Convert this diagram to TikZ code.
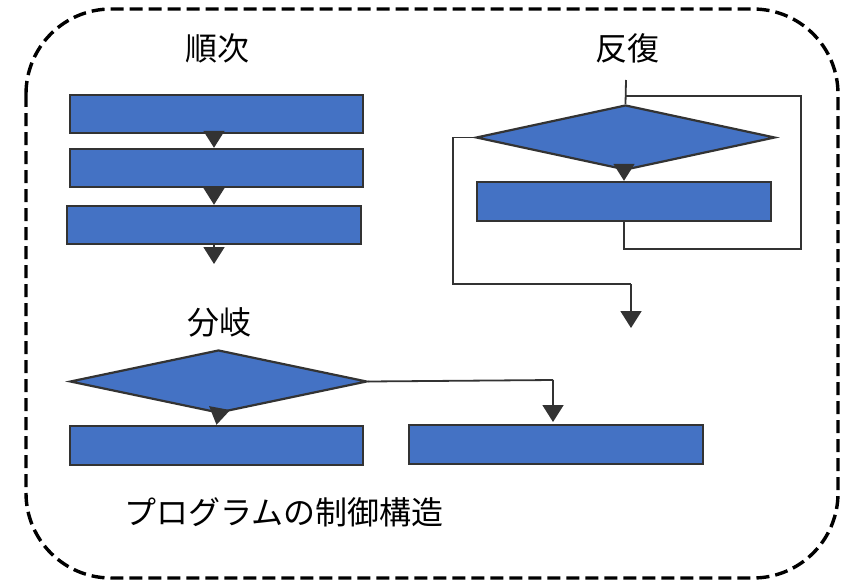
\documentclass[tikz,border=0pt]{standalone}
\usepackage{fontspec}
\setmainfont{Noto Sans CJK JP}
\usetikzlibrary{arrows.meta,shapes.geometric}
\definecolor{boxblue}{HTML}{4472C4}
\definecolor{edge}{HTML}{333333}
\tikzset{
  blk/.style={draw=edge, line width=2.4pt, fill=boxblue, rectangle, inner sep=0pt, minimum width=293pt, minimum height=38pt},
  dia/.style={draw=edge, line width=2.2pt, fill=boxblue, diamond, inner sep=0pt, minimum width=298pt, minimum height=64pt},
  conn/.style={draw=edge, line width=1.8pt},
  arr/.style={conn, -{Triangle[width=21pt,length=17pt]}},
  lbl/.style={font=\fontsize{32pt}{36pt}\selectfont, inner sep=0pt}
}
\begin{document}
\begin{tikzpicture}[x=1pt,y=-1pt]
\useasboundingbox (0,0) rectangle (858,583);
\draw[black, line width=3.4pt, dash pattern=on 13pt off 6pt, rounded corners=85pt] (26,9) rectangle (838,578);

% sequence
\node[lbl] (tseq) at (217,48) {順次};
\node[blk] (b1) at (216.5,114) {};
\node[blk] (b2) at (216.5,168) {};
\node[blk, minimum width=294pt] (b3) at (214,225) {};
\coordinate (b3out) at (214,264);
\draw[arr] (b1.south -| 214,0) -- (b2.north -| 214,0);
\draw[arr] (b2.south -| 214,0) -- (b3.north -| 214,0);
\draw[arr] (b3.south -| 214,0) -- (b3out);

% iteration
\node[lbl] (trep) at (627,48) {反復};
\node[dia, minimum width=299pt, minimum height=65pt] (d1) at (625.5,137.5) {};
\node[blk, minimum width=294pt, minimum height=39pt] (r1) at (624,201.5) {};
\coordinate (in1) at (626,80);
\coordinate (lp1) at (624,249);
\coordinate (lp2) at (801,249);
\coordinate (lp3) at (801,96);
\coordinate (lp4) at (626,96);
\coordinate (ex1) at (453,137.5);
\coordinate (ex2) at (453,284);
\coordinate (ex3) at (631,284);
\coordinate (ex4) at (631,328);
\draw[conn] (in1) -- (d1.north);
\draw[arr] (d1.south -| 624,0) -- (r1.north);
\draw[conn] (r1.south) -- (lp1) -- (lp2) -- (lp3) -- (lp4);
\draw[conn] (d1.west) -- (ex1) -- (ex2) -- (ex3);
\draw[arr] (ex3) -- (ex4);

% branch
\node[lbl] (tbr) at (219,322) {分岐};
\node[dia, minimum width=297pt, minimum height=63pt] (d2) at (218.5,381.5) {};
\node[blk, minimum height=39pt] (c1) at (216.5,445.5) {};
\node[blk, minimum width=294pt, minimum height=39pt] (c2) at (556,444.5) {};
\coordinate (br1) at (553,380);
\coordinate (br2) at (553,422);
\draw[arr] (d2.south) -- (c1.north);
\draw[conn] (d2.east) -- (br1);
\draw[arr] (br1) -- (br2);

\node[lbl] (title) at (284,512) {プログラムの制御構造};
\end{tikzpicture}
\end{document}
